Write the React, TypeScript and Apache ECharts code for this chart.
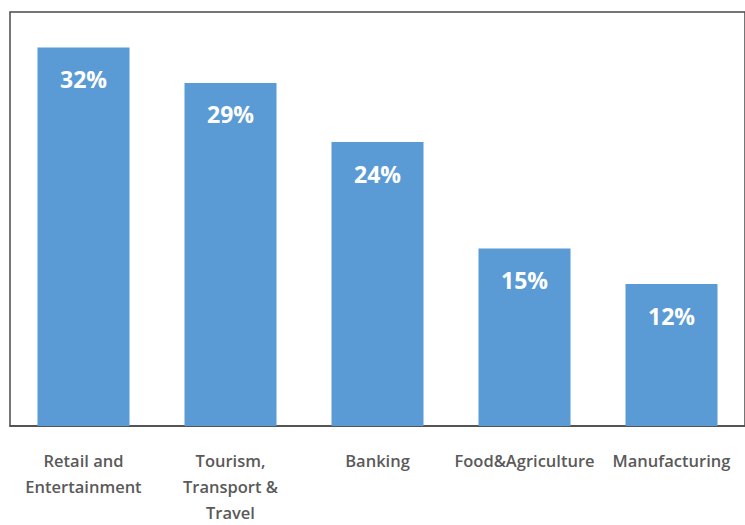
import React, { useEffect, useRef } from "react";
import * as echarts from "echarts";

const categories = [
  "Retail and\nEntertainment",
  "Tourism,\nTransport &\nTravel",
  "Banking",
  "Food&Agriculture",
  "Manufacturing",
];
const values = [32, 29, 24, 15, 12];

export default function App() {
  const ref = useRef<HTMLDivElement>(null);
  useEffect(() => {
    if (!ref.current) return;
    const chart = echarts.init(ref.current, null, { renderer: "svg" });
    chart.setOption({
      animation: false,
      grid: {
        left: 10,
        top: 12,
        width: 743,
        height: 421,
        show: true,
        borderColor: "#4a4a4a",
        borderWidth: 1.5,
        backgroundColor: "transparent",
      },
      xAxis: {
        type: "category",
        data: categories,
        axisLine: { lineStyle: { color: "#4a4a4a", width: 1.5 } },
        axisTick: { show: false },
        axisLabel: {
          interval: 0,
          color: "#5a5a5a",
          fontFamily: "Open Sans",
          fontWeight: 600,
          fontSize: 16.5,
          lineHeight: 26,
          margin: 21,
        },
      },
      yAxis: {
        type: "value",
        min: 0,
        max: 35,
        show: false,
        splitLine: { show: false },
      },
      series: [
        {
          type: "bar",
          data: values,
          barWidth: 92,
          itemStyle: { color: "#5B9BD5" },
          label: {
            show: true,
            position: "insideTop",
            distance: 20,
            formatter: "{c}%",
            color: "#ffffff",
            fontFamily: "Open Sans",
            fontWeight: "bold",
            fontSize: 23,
          },
        },
      ],
    });
    return () => chart.dispose();
  }, []);
  return (
    <div
      ref={ref}
      style={{ position: "absolute", left: 0, top: 0, width: 745, height: 525, background: "#fff" }}
    />
  );
}
